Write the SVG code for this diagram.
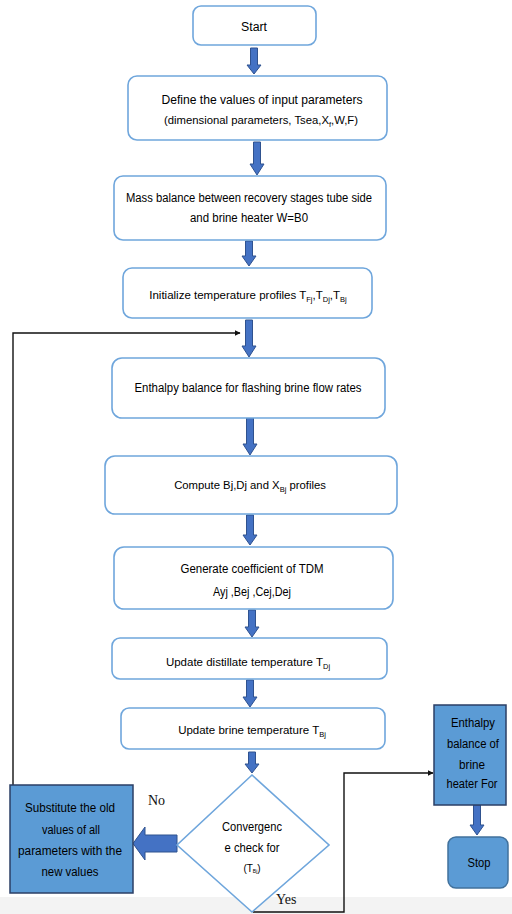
<svg xmlns="http://www.w3.org/2000/svg" width="512" height="914" viewBox="0 0 512 914">
<defs>
<style>
.box{fill:#fff;stroke:#6fa6dc;stroke-width:1.6}
.dbox{fill:#5b9bd5;stroke:#2b3f66;stroke-width:1.5}
.t{font-family:"Liberation Sans",Arial,sans-serif;font-size:12.5px;fill:#000;text-anchor:middle}
.n{font-size:11.5px}
.s{font-size:7.5px}
.lbl{font-family:"Liberation Serif","Times New Roman",serif;font-size:14px;fill:#111}
.ba{fill:#4472c4;stroke:#2f528f;stroke-width:1}
.ln{fill:none;stroke:#111;stroke-width:1.4}
</style>
<marker id="ah" viewBox="0 0 10 10" refX="9" refY="5" markerWidth="6" markerHeight="6" orient="auto" markerUnits="userSpaceOnUse">
<path d="M0,0 L10,5 L0,10 z" fill="#111"/>
</marker>
</defs>
<rect x="0" y="0" width="512" height="914" fill="#fff"/>
<rect x="0" y="897" width="512" height="17" fill="#f3f3f3"/>

<g id="connectors">
<path class="ba" d="M250.5,48 h7 v17 h3.5 l-7,9 l-7,-9 h3.5 z"/>
<path class="ba" d="M253.5,142 h7 v22 h3.5 l-7,11 l-7,-11 h3.5 z"/>
<path class="ba" d="M245.5,241 h7 v15 h3.5 l-7,10 l-7,-10 h3.5 z"/>
<path class="ba" d="M245.5,320 h7 v26 h3.5 l-7,11 l-7,-11 h3.5 z"/>
<path class="ba" d="M246.5,418 h7 v26 h3.5 l-7,11 l-7,-11 h3.5 z"/>
<path class="ba" d="M246.5,515 h7 v20 h3.5 l-7,10 l-7,-10 h3.5 z"/>
<path class="ba" d="M248.5,610 h7 v17 h3.5 l-7,10 l-7,-10 h3.5 z"/>
<path class="ba" d="M246.5,680 h7 v17 h3.5 l-7,10 l-7,-10 h3.5 z"/>
<path class="ba" d="M248.5,752 h7 v12 h3.5 l-7,9 l-7,-9 h3.5 z"/>
<path class="ba" d="M473.5,805 h7 v20 h3.5 l-7,10 l-7,-10 h3.5 z"/>
<path class="ba" d="M177,835 H145 V827 L133,843.5 L145,860 V852 H177 z"/>
<path class="ln" d="M25,803 H13 V333 H240" marker-end="url(#ah)"/>
<path class="ln" d="M253,912 H344 V773 H433" marker-end="url(#ah)"/>
<text class="lbl" x="148" y="805">No</text>
<text class="lbl" x="276" y="904">Yes</text>
</g>

<g id="start">
<rect class="box" x="193" y="6" width="123" height="39" rx="8"/>
<text class="t" x="254" y="31" textLength="26" lengthAdjust="spacingAndGlyphs">Start</text>
</g>

<g id="define">
<rect class="box" x="128" y="76" width="259" height="64" rx="9"/>
<text class="t" x="262" y="104" textLength="201" lengthAdjust="spacingAndGlyphs">Define the values of input parameters</text>
<text class="t" x="261" y="124" style="font-size:11.3px">(dimensional parameters, Tsea,X<tspan class="s" dy="2.5">f</tspan><tspan dy="-2.5">,W,F)</tspan></text>
</g>

<g id="mass">
<rect class="box" x="114" y="176" width="272" height="64" rx="9"/>
<text class="t" x="249" y="202" textLength="246" lengthAdjust="spacingAndGlyphs">Mass balance between recovery stages tube side</text>
<text class="t" x="249" y="222" textLength="118" lengthAdjust="spacingAndGlyphs">and brine heater W=B0</text>
</g>

<g id="init">
<rect class="box" x="123" y="268" width="249" height="50" rx="9"/>
<text class="t n" x="248" y="299">Initialize temperature profiles T<tspan class="s" dy="2.5">Fj</tspan><tspan dy="-2.5">,T</tspan><tspan class="s" dy="2.5">Dj</tspan><tspan dy="-2.5">,T</tspan><tspan class="s" dy="2.5">Bj</tspan></text>
</g>

<g id="enthalpy-flash">
<rect class="box" x="112" y="358" width="273" height="60" rx="10"/>
<text class="t" x="248" y="392" textLength="227" lengthAdjust="spacingAndGlyphs">Enthalpy balance for flashing brine flow rates</text>
</g>

<g id="compute">
<rect class="box" x="105" y="456" width="292" height="58" rx="10"/>
<text class="t" x="250" y="489" style="font-size:11.3px">Compute Bj,Dj and X<tspan class="s" dy="2.5">Bj</tspan><tspan dy="-2.5"> profiles</tspan></text>
</g>

<g id="generate">
<rect class="box" x="114" y="547" width="279" height="62" rx="10"/>
<text class="t" x="252" y="573" textLength="143" lengthAdjust="spacingAndGlyphs">Generate coefficient of TDM</text>
<text class="t" x="252" y="596" textLength="78" lengthAdjust="spacingAndGlyphs">Ayj ,Bej ,Cej,Dej</text>
</g>

<g id="update-distillate">
<rect class="box" x="112" y="638" width="275" height="41" rx="8"/>
<text class="t n" x="248" y="666">Update distillate temperature T<tspan class="s" dy="2.5">Dj</tspan></text>
</g>

<g id="update-brine">
<rect class="box" x="121" y="708" width="264" height="41" rx="8"/>
<text class="t n" x="252" y="734">Update brine temperature T<tspan class="s" dy="2.5">Bj</tspan></text>
</g>

<g id="convergence">
<polygon class="box" points="252,775 329,845 252,912 177,845"/>
<text class="t" x="252" y="831" textLength="60" lengthAdjust="spacingAndGlyphs">Convergenc</text>
<text class="t" x="252" y="852" textLength="55" lengthAdjust="spacingAndGlyphs">e check for</text>
<text class="t" x="252" y="872" style="font-size:10px">(T<tspan style="font-size:5px" dy="1">Bj</tspan><tspan dy="-1">)</tspan></text>
</g>

<g id="substitute">
<rect class="dbox" x="10" y="785" width="123" height="108"/>
<text class="t" x="70" y="812" textLength="90" lengthAdjust="spacingAndGlyphs">Substitute the old</text>
<text class="t" x="71" y="834" textLength="58" lengthAdjust="spacingAndGlyphs">values of all</text>
<text class="t" x="70" y="855" textLength="104" lengthAdjust="spacingAndGlyphs">parameters with the</text>
<text class="t" x="70" y="876" textLength="57" lengthAdjust="spacingAndGlyphs">new values</text>
</g>

<g id="enthalpy-heater">
<rect class="dbox" x="434" y="705" width="72" height="100"/>
<text class="t" x="473" y="727" textLength="44" lengthAdjust="spacingAndGlyphs">Enthalpy</text>
<text class="t" x="473" y="748" textLength="52" lengthAdjust="spacingAndGlyphs">balance of</text>
<text class="t" x="472" y="769" textLength="26" lengthAdjust="spacingAndGlyphs">brine</text>
<text class="t" x="472" y="788" textLength="51" lengthAdjust="spacingAndGlyphs">heater For</text>
</g>

<g id="stop">
<rect x="448" y="837" width="60" height="51" rx="8" fill="#5b9bd5" stroke="#41719c" stroke-width="1.5"/>
<text class="t" x="479" y="867" textLength="23" lengthAdjust="spacingAndGlyphs">Stop</text>
</g>
</svg>
